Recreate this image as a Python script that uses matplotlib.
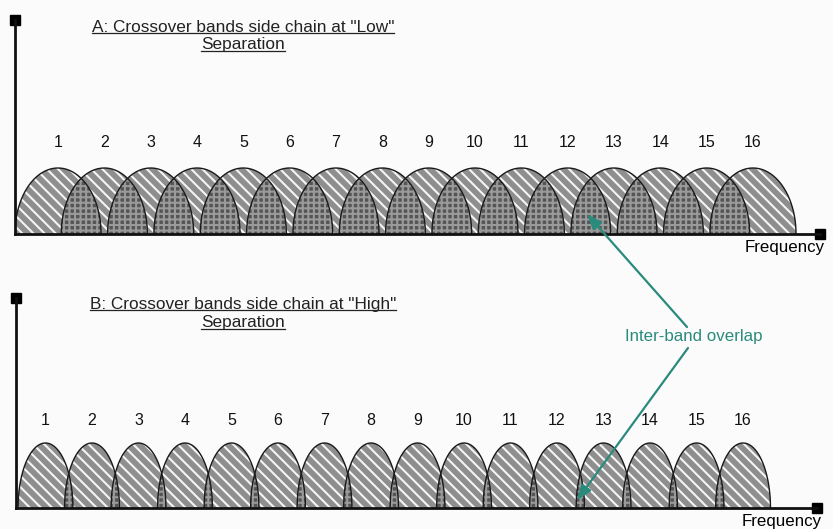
import numpy as np
import matplotlib
matplotlib.use("Agg")
import matplotlib.pyplot as plt
from matplotlib.lines import Line2D

plt.rcParams['font.family'] = ['Liberation Sans', 'DejaVu Sans']
plt.rcParams['hatch.linewidth'] = 1.5

# band data (frequency axis in band units)
bands = list(range(1, 17))
band_labels = [str(b) for b in bands]
low_halfwidth = 0.93    # "Low" separation: wide bands, big overlap
high_halfwidth = 0.59   # "High" separation: narrow bands, small overlap
band_height = 1.0

title_a = ['A: Crossover bands side chain at "Low"', 'Separation']
title_b = ['B: Crossover bands side chain at "High"', 'Separation']
overlap_text = 'Inter-band overlap'
teal = '#2a8a7c'
bg = '#fbfbfb'

W, H = 833, 529
fig = plt.figure(figsize=(W / 100, H / 100), dpi=100, facecolor=bg)


def px_axes(left, right, top, bottom):
    return fig.add_axes([left / W, (H - bottom) / H, (right - left) / W, (bottom - top) / H])


def arch(x, c, a, h):
    u = np.clip((x - c) / a, -1, 1)
    return h * np.sqrt(1 - u ** 2)


def draw_panel(ax, halfwidth, label_y):
    ax.patch.set_visible(False)
    # striped bands
    for c in bands:
        x = np.linspace(c - halfwidth, c + halfwidth, 300)
        ax.fill_between(x, 0, arch(x, c, halfwidth, band_height), facecolor='#8e8e8e',
                        edgecolor='#f4f4f4', hatch='\\\\\\', linewidth=0, zorder=2)
    # overlaps between neighbours
    for c in bands[:-1]:
        x = np.linspace(c + 1 - halfwidth, c + halfwidth, 200)
        y = np.minimum(arch(x, c, halfwidth, band_height), arch(x, c + 1, halfwidth, band_height))
        ax.fill_between(x, 0, y, facecolor='#555555', edgecolor='#9a9a9a',
                        hatch='+++', linewidth=0, zorder=3)
    # outlines
    for c in bands:
        x = np.linspace(c - halfwidth, c + halfwidth, 300)
        ax.plot(x, arch(x, c, halfwidth, band_height), color='#1a1a1a', lw=1.0, zorder=4)
    for c, lab in zip(bands, band_labels):
        ax.text(c, label_y, lab, ha='center', va='center', fontsize=11.5, color='#111111')

    for s in ['top', 'right']:
        ax.spines[s].set_visible(False)
    for s in ['left', 'bottom']:
        ax.spines[s].set_linewidth(2.0)
        ax.spines[s].set_color('#111111')
        ax.spines[s].set_zorder(5)
    ax.set_xticks([])
    ax.set_yticks([])
    ax.plot([0], [1], marker='s', ms=7, color='black', transform=ax.transAxes, clip_on=False)
    ax.plot([1], [0], marker='s', ms=7, color='black', transform=ax.transAxes, clip_on=False)
    ax.text(1.006, -0.03, 'Frequency', transform=ax.transAxes, ha='right', va='top', fontsize=12.2)


# panel A
ax_a = px_axes(15, 820, 20, 234)
ax_a.set_xlim(0.072, 17.447)
ax_a.set_ylim(0, 214 / 66)
draw_panel(ax_a, low_halfwidth, 1.38)

# panel B
ax_b = px_axes(16, 817, 298, 508)
ax_b.set_xlim(0.366, 17.59)
ax_b.set_ylim(0, 210 / 65)
draw_panel(ax_b, high_halfwidth, 1.35)

# titles
titles = []
for lines, ys in [(title_a, (27, 45)), (title_b, (304, 323))]:
    for line, y in zip(lines, ys):
        t = fig.text(243 / W, 1 - y / H, line, ha='center', va='center', fontsize=12.4, color='#222222')
        titles.append(t)

# annotation
fig.text(694 / W, 1 - 337 / H, overlap_text, ha='center', va='center', fontsize=12.2, color=teal)
arrow = dict(arrowstyle='-|>,head_length=0.9,head_width=0.35', color=teal, lw=1.6, shrinkA=0, shrinkB=0)
ax_a.annotate('', xy=(12.42, 0.3), xycoords='data', xytext=(687 / W, 1 - 327 / H),
              textcoords='figure fraction', arrowprops=arrow, zorder=6, annotation_clip=False)
ax_b.annotate('', xy=(12.43, 0.12), xycoords='data', xytext=(688 / W, 1 - 348 / H),
              textcoords='figure fraction', arrowprops=arrow, zorder=6, annotation_clip=False)

# underline titles
fig.canvas.draw()
r = fig.canvas.get_renderer()
for t in titles:
    bb = t.get_window_extent(r)
    y = bb.y0 + 2
    fig.add_artist(Line2D([bb.x0 / W, bb.x1 / W], [y / H, y / H], color='#222222', lw=0.9))

fig.savefig('out.png', dpi=100, facecolor=bg)
